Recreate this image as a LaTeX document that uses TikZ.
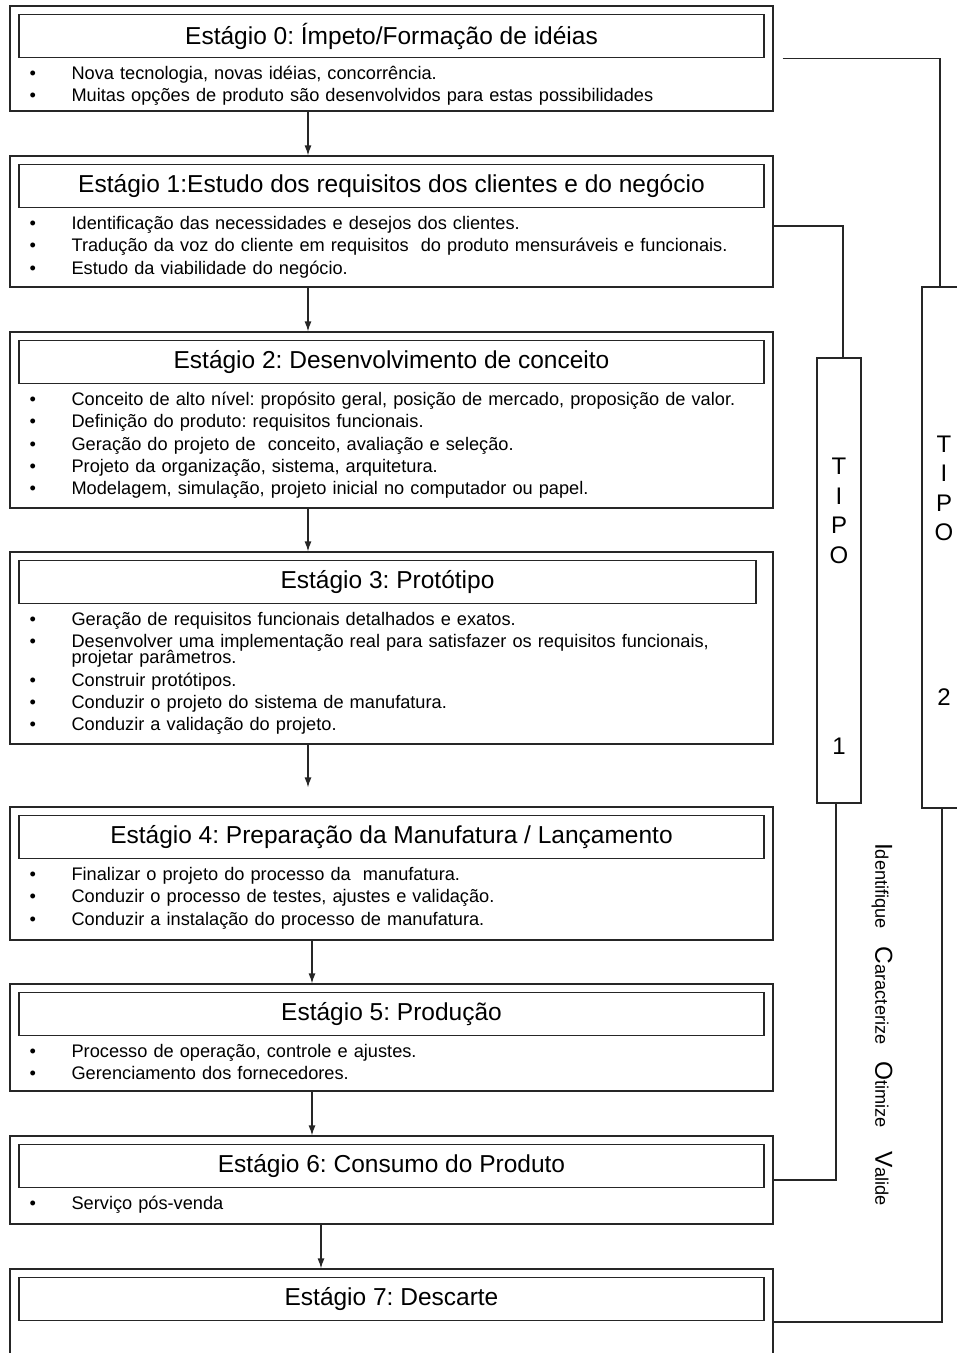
\documentclass[tikz,border=0pt]{standalone}
\usepackage{fontspec}
\setmainfont{Liberation Sans}
\usepackage{tikz}
\usetikzlibrary{shapes,arrows.meta}
\usetikzlibrary{calc}
\frenchspacing
\tikzstyle{stagebox} = [rectangle, draw=black!85, line width=1.2pt, minimum width=763pt, inner sep=0pt]
\tikzstyle{titlebox} = [rectangle, draw=black!85, line width=1.2pt, minimum width=745pt,
    minimum height=43pt, inner sep=0pt, font=\fontsize{24.5}{26}\selectfont]
\tikzstyle{bullets} = [anchor=base west, inner sep=0pt, text width=745pt, font=\fontsize{18.2}{16}\selectfont]
\tikzstyle{tipobox} = [rectangle, draw=black!85, line width=1.2pt, minimum width=44pt, inner sep=0pt]
\tikzstyle{tipotext} = [align=center, inner sep=0pt, font=\fontsize{24}{29.5}\selectfont]
\tikzstyle{line} = [draw=black!85, line width=1.2pt, -{Latex[length=10pt,width=7pt]}]
\tikzstyle{conn} = [draw=black!85, line width=1.2pt]
\newcommand{\lista}{\fontsize{18.2}{16}\selectfont\frenchspacing\setlength{\parskip}{6.2pt}\lineskiplimit=-20pt}
\newcommand{\marca}[1]{\hangindent=49pt\hangafter=1\noindent\makebox[49pt][l]{\hspace{7pt}\textbullet}#1\par}
\newcommand{\ini}[1]{{\fontsize{24.5}{26}\selectfont #1}}

\begin{document}
\begin{tikzpicture}[x=1pt, y=1pt]
    \useasboundingbox (0,0) rectangle (957,-1353);

    % Stages
    \node [stagebox, minimum height=105pt] (s0) at (391.5,-58.5) {};
    \node [stagebox, minimum height=131pt, below of=s0, node distance=163pt] (s1) {};
    \node [stagebox, minimum height=176pt, below of=s1, node distance=198.5pt] (s2) {};
    \node [stagebox, minimum height=192pt, below of=s2, node distance=228pt] (s3) {};
    \node [stagebox, minimum height=133pt, below of=s3, node distance=225.5pt] (s4) {};
    \node [stagebox, minimum height=107pt, below of=s4, node distance=164pt] (s5) {};
    \node [stagebox, minimum height=88pt, below of=s5, node distance=142.5pt] (s6) {};
    \node [stagebox, minimum height=106pt, below of=s6, node distance=142pt] (s7) {};

    % Titles
    \node [titlebox, below=8.5pt] (t0) at (s0.north) {Estágio 0: Ímpeto/Formação de idéias};
    \node [titlebox, below=8.5pt] (t1) at (s1.north) {Estágio 1:Estudo dos requisitos dos clientes e do negócio};
    \node [titlebox, below=8.5pt] (t2) at (s2.north) {Estágio 2: Desenvolvimento de conceito};
    \node [titlebox, below=8.5pt, minimum width=737pt, xshift=-4pt] (t3) at (s3.north) {Estágio 3: Protótipo};
    \node [titlebox, below=8.5pt] (t4) at (s4.north) {Estágio 4: Preparação da Manufatura / Lançamento};
    \node [titlebox, below=8.5pt] (t5) at (s5.north) {Estágio 5: Produção};
    \node [titlebox, below=8.5pt] (t6) at (s6.north) {Estágio 6: Consumo do Produto};
    \node [titlebox, below=8.5pt] (t7) at (s7.north) {Estágio 7: Descarte};

    % Bullet lists
    \node [bullets] (b0) at ([shift={(4pt,-21.5pt)}]t0.south west) {\lista
        \marca{Nova tecnologia, novas idéias, concorrência.}
        \marca{Muitas opções de produto são desenvolvidos para estas possibilidades}};
    \node [bullets] (b1) at ([shift={(4pt,-21.5pt)}]t1.south west) {\lista
        \marca{Identificação das necessidades e desejos dos clientes.}
        \marca{Tradução da voz do cliente em requisitos\ \ do produto mensuráveis e funcionais.}
        \marca{Estudo da viabilidade do negócio.}};
    \node [bullets] (b2) at ([shift={(4pt,-21.5pt)}]t2.south west) {\lista
        \marca{Conceito de alto nível: propósito geral, posição de mercado, proposição de valor.}
        \marca{Definição do produto: requisitos funcionais.}
        \marca{Geração do projeto de\ \ conceito, avaliação e seleção.}
        \marca{Projeto da organização, sistema, arquitetura.}
        \marca{Modelagem, simulação, projeto inicial no computador ou papel.}};
    \node [bullets] (b3) at ([shift={(4pt,-21.5pt)}]t3.south west) {\lista
        \marca{Geração de requisitos funcionais detalhados e exatos.}
        \marca{Desenvolver uma implementação real para satisfazer os requisitos funcionais,\newline projetar parâmetros.}
        \marca{Construir protótipos.}
        \marca{Conduzir o projeto do sistema de manufatura.}
        \marca{Conduzir a validação do projeto.}};
    \node [bullets] (b4) at ([shift={(4pt,-21.5pt)}]t4.south west) {\lista
        \marca{Finalizar o projeto do processo da\ \ manufatura.}
        \marca{Conduzir o processo de testes, ajustes e validação.}
        \marca{Conduzir a instalação do processo de manufatura.}};
    \node [bullets] (b5) at ([shift={(4pt,-21.5pt)}]t5.south west) {\lista
        \marca{Processo de operação, controle e ajustes.}
        \marca{Gerenciamento dos fornecedores.}};
    \node [bullets] (b6) at ([shift={(4pt,-21.5pt)}]t6.south west) {\lista
        \marca{Serviço pós-venda}};

    % TIPO boxes
    \node [tipobox, minimum height=445pt] (tipo1) at (839,-580.5) {};
    \node [tipobox, minimum height=521pt] (tipo2) at (944,-547.5) {};
    \node [tipotext] (rot1) at (839,-606.5) {T\\I\\P\\O\\[162pt]1};
    \node [tipotext] (rot2) at (944,-570.5) {T\\I\\P\\O\\[135pt]2};
    \node [rotate=-90, inner sep=0pt, font=\fontsize{18.2}{20}\selectfont] (fases) at (882,-1024.5)
        {\ini{I}dentifique\hspace{18pt}\ini{C}aracterize\hspace{17pt}\ini{O}timize\hspace{23pt}\ini{V}alide};

    % Draw edges
    \path [line] ([xshift=-83.5pt]s0.south) -- ([xshift=-83.5pt]s1.north);
    \path [line] ([xshift=-83.5pt]s1.south) -- ([xshift=-83.5pt]s2.north);
    \path [line] ([xshift=-83.5pt]s2.south) -- ([xshift=-83.5pt]s3.north);
    \path [line, shorten >=19pt] ([xshift=-83.5pt]s3.south) -- ([xshift=-83.5pt]s4.north);
    \path [line] ([xshift=-79.5pt]s4.south) -- ([xshift=-79.5pt]s5.north);
    \path [line] ([xshift=-79.5pt]s5.south) -- ([xshift=-79.5pt]s6.north);
    \path [line] ([xshift=-70.5pt]s6.south) -- ([xshift=-70.5pt]s7.north);
    \path [conn, shorten <=9pt] (s0.east) -| ([xshift=-4pt]tipo2.north);
    \path [conn] ([yshift=-4.5pt]s1.east) -| ([xshift=4pt]tipo1.north);
    \path [conn] ([xshift=-3pt]tipo1.south) |- (s6.east);
    \path [conn] ([xshift=-2pt]tipo2.south) |- (s7.east);
\end{tikzpicture}
\end{document}
